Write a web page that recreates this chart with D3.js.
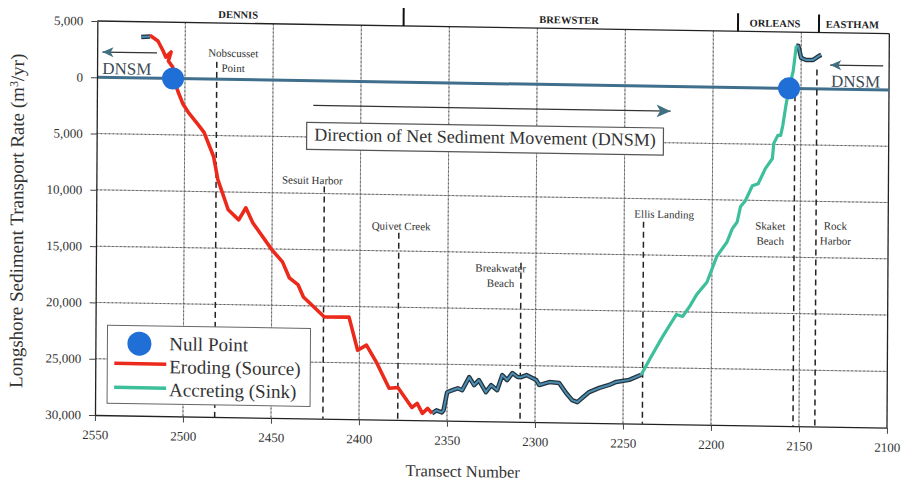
<!DOCTYPE html>
<html><head><meta charset="utf-8">
<script src="https://cdn.jsdelivr.net/npm/d3@7"></script>
<style>
body{margin:0;background:#fff}
svg{display:block}
text{font-family:"Liberation Serif","Times New Roman",serif}
</style>
</head><body>
<svg id="c" width="904" height="482"></svg>
<script>
// ---------- DATA ----------
const xTicks = [2550, 2500, 2450, 2400, 2350, 2300, 2250, 2200, 2150, 2100];
const yTicks = [5000, 0, -5000, -10000, -15000, -20000, -25000, -30000];
const yTickLabels = ["5,000", "0", "5,000", "10,000", "15,000", "20,000", "25,000", "30,000"];

const westTailT = [2525, 2520];
const westTailV = [3640, 3700];

const erodingT = [2520, 2519.5, 2515.5, 2512.5, 2511, 2508, 2509.5, 2507, 2506.5, 2504, 2501, 2498, 2492.5, 2489, 2483.5, 2481, 2475, 2469, 2465, 2461, 2450, 2444, 2440, 2435, 2432, 2426, 2420, 2406, 2401, 2396, 2390, 2383, 2378, 2370, 2367, 2364, 2361, 2358.5];
const erodingV = [3700, 3750, 3310, 2430, 1890, 2350, 1550, 1010, 0, -1125, -2280, -2980, -4040, -4740, -6870, -8920, -11580, -12460, -11380, -12700, -15080, -16130, -17550, -18160, -19220, -20100, -20970, -20940, -23880, -23410, -25000, -27210, -27120, -28880, -28510, -29390, -28940, -29380];

const transitionT = [2358.5, 2356, 2353, 2352, 2350, 2347, 2344, 2341.5, 2337.5, 2334.7, 2332, 2328, 2325, 2321.6, 2318.75, 2316, 2313, 2310, 2308, 2305, 2299.4, 2297.7, 2292, 2286.4, 2282.4, 2279, 2276, 2273.3, 2269.3, 2263.6, 2258, 2254, 2246.6, 2239.8];
const transitionV = [-29380, -29100, -29280, -29090, -27480, -27290, -27110, -27280, -26110, -26810, -26360, -27420, -26790, -27220, -25880, -26310, -25680, -26030, -26030, -25840, -26270, -26710, -26430, -26500, -27380, -28000, -28170, -27800, -27260, -26880, -26600, -26320, -26120, -25650];

const accretingT = [2239.8, 2235.2, 2227.8, 2220, 2216.5, 2212.5, 2208.5, 2202.8, 2197.2, 2191.5, 2188.6, 2185.8, 2184, 2181.25, 2177.3, 2174, 2170, 2166, 2165.3, 2163, 2161.4, 2160.2, 2158.5, 2156.8, 2154.5, 2152.8];
const accretingV = [-25650, -24300, -22230, -20240, -20410, -19510, -18430, -17340, -15000, -13730, -12560, -11940, -10590, -10040, -8700, -8510, -7160, -6250, -4910, -4190, -4190, -3290, -1500, 0, 1540, 3790];

const eastTailT = [2152.8, 2151.7, 2150, 2147.2, 2143.2, 2139.8, 2138.6];
const eastTailV = [3790, 3790, 2720, 2540, 2560, 2930, 3020];

const nullPointT = [2506.8, 2156.8];
const nullPointV = [0, 0];

const townNames = ["DENNIS", "BREWSTER", "ORLEANS", "EASTHAM"];
const townT = [2470, 2282, 2165, 2121];
const townBoundT = [2376, 2186, 2140];

const placeNames = [["Nobscusset", "Point"], ["Sesuit Harbor"], ["Quivet Creek"], ["Breakwater", "Beach"], ["Ellis Landing"], ["Skaket", "Beach"], ["Rock", "Harbor"]];
const placeT = [2482, 2420.5, 2378, 2308.5, 2239, 2153.4, 2141];
const placeDashTopV = [1540, -9380, -13380, -15870, -12050, -600, 1710];
const placeLabelT = [2472.7, 2427.3, 2376.7, 2320, 2227.3, 2167, 2130];
const placeLabelV = [2000, -9170, -13120, -16710, -11700, -12580, -12490];

// ---------- CHART ----------
const x = d3.scaleLinear().domain([2550, 2100]).range([97, 889]);
const y = d3.scaleLinear().domain([5000, -30000]).range([21, 415]);

const svg = d3.select("#c");
const g = svg.append("g").attr("transform", "matrix(1,0.016,-0.006,1,0.47,-1.54)");

// grid (solid light underlay + dotted overlay)
const gridV = xTicks.slice(1, xTicks.length - 1);
const gridH = yTicks.slice(2, yTicks.length - 1);
const grid = g.append("g");
[["#a6a6a6", "none"], ["#5e5e5e", "1.5 2.5"]].forEach(([col, dash]) => {
  gridV.forEach(d => {
    grid.append("line").attr("x1", x(d)).attr("x2", x(d)).attr("y1", y(5000)).attr("y2", y(-30000))
      .attr("stroke", col).attr("stroke-width", 1).attr("stroke-dasharray", dash);
  });
  gridH.forEach(d => {
    grid.append("line").attr("x1", x(2550)).attr("x2", x(2100)).attr("y1", y(d)).attr("y2", y(d))
      .attr("stroke", col).attr("stroke-width", 1).attr("stroke-dasharray", dash);
  });
});

// frame top / right
g.append("line").attr("x1", x(2550)).attr("x2", x(2100)).attr("y1", y(5000)).attr("y2", y(5000)).attr("stroke", "#222").attr("stroke-width", 1.3);
g.append("line").attr("x1", x(2100)).attr("x2", x(2100)).attr("y1", y(5000)).attr("y2", y(-30000)).attr("stroke", "#222").attr("stroke-width", 1.3);

// zero line
g.append("line").attr("x1", x(2550)).attr("x2", x(2100)).attr("y1", y(0)).attr("y2", y(0))
  .attr("stroke", "#3f6f8c").attr("stroke-width", 3);

// place dashed lines
g.append("g").selectAll("line").data(placeT).join("line")
  .attr("x1", d => x(d)).attr("x2", d => x(d))
  .attr("y1", (d, i) => y(placeDashTopV[i])).attr("y2", y(-30000))
  .attr("stroke", "#222").attr("stroke-width", 1.5).attr("stroke-dasharray", "6,4");

// place labels
placeNames.forEach((lines, i) => {
  lines.forEach((t, j) => {
    g.append("text").attr("x", x(placeLabelT[i])).attr("y", y(placeLabelV[i]) + j * 15)
      .attr("text-anchor", "middle").attr("font-size", 11).attr("fill", "#333").text(t);
  });
});

// curves
const line = d3.line().x(d => x(d[0])).y(d => y(d[1]));
const zip = (a, b) => a.map((v, i) => [v, b[i]]);

function darkSeg(T, V) {
  g.append("path").attr("d", line(zip(T, V))).attr("fill", "none").attr("stroke", "#24343c").attr("stroke-width", 4.5).attr("stroke-linejoin", "round");
  g.append("path").attr("d", line(zip(T, V))).attr("fill", "none").attr("stroke", "#4b8db3").attr("stroke-width", 2).attr("stroke-linejoin", "round");
}
darkSeg(westTailT, westTailV);
darkSeg(transitionT, transitionV);
darkSeg(eastTailT, eastTailV);
g.append("path").attr("d", line(zip(erodingT, erodingV))).attr("fill", "none").attr("stroke", "#ec2a1c").attr("stroke-width", 3.6).attr("stroke-linejoin", "round");
g.append("path").attr("d", line(zip(accretingT, accretingV))).attr("fill", "none").attr("stroke", "#3dbf9b").attr("stroke-width", 3.2).attr("stroke-linejoin", "round");

// null points
g.append("g").selectAll("circle").data(nullPointT).join("circle")
  .attr("cx", d => x(d)).attr("cy", (d, i) => y(nullPointV[i])).attr("r", 11).attr("fill", "#1f6fd6");

// axes
const xAxis = g.append("g").attr("transform", `translate(0,${y(-30000)})`)
  .call(d3.axisBottom(x).tickValues(xTicks).tickFormat(d3.format("d")).tickSizeInner(6).tickSizeOuter(0).tickPadding(9));
const yAxis = g.append("g").attr("transform", `translate(${x(2550)},0)`)
  .call(d3.axisLeft(y).tickValues(yTicks).tickFormat((d, i) => yTickLabels[i]).tickSizeInner(6).tickSizeOuter(0).tickPadding(8));
[xAxis, yAxis].forEach(a => {
  a.select(".domain").attr("stroke", "#222").attr("stroke-width", 1.3);
  a.selectAll(".tick line").attr("stroke", "#444");
  a.selectAll(".tick text").attr("font-family", '"Liberation Serif",serif').attr("font-size", 13).attr("fill", "#333");
});

// axis titles
g.append("text").attr("transform", `translate(24,222) rotate(-90)`)
  .attr("text-anchor", "middle").attr("font-size", 19).attr("fill", "#333")
  .html('Longshore Sediment Transport Rate (m<tspan dy="-6" font-size="12">3</tspan><tspan dy="6">/yr)</tspan>');
g.append("text").attr("x", 465).attr("y", 471).attr("text-anchor", "middle")
  .attr("font-size", 16.5).attr("fill", "#333").text("Transect Number");

// town labels & boundaries
g.append("g").selectAll("text").data(townNames).join("text")
  .attr("x", (d, i) => x(townT[i])).attr("y", y(5000) - 5).attr("text-anchor", "middle")
  .attr("font-size", 10.5).attr("font-weight", "bold").attr("fill", "#222").text(d => d);
g.append("g").selectAll("line").data(townBoundT).join("line")
  .attr("x1", d => x(d)).attr("x2", d => x(d)).attr("y1", y(5000) - 18).attr("y2", y(5000))
  .attr("stroke", "#111").attr("stroke-width", 2);

// arrows
const arrowCol = "#3f6f80";
function arrow(t1, t2, v, size) {
  const x1 = x(t1), x2 = x(t2), yy = y(v);
  g.append("line").attr("x1", x1).attr("x2", x2).attr("y1", yy).attr("y2", yy).attr("stroke", "#333").attr("stroke-width", 1.2);
  const dir = Math.sign(x2 - x1);
  g.append("path").attr("d", `M${x2},${yy} L${x2 - dir * size},${yy - size * 0.45} L${x2 - dir * size * 0.75},${yy} L${x2 - dir * size},${yy + size * 0.45} Z`)
    .attr("fill", arrowCol);
}
arrow(2516, 2547, 2250, 11);
arrow(2103.4, 2133.5, 2130, 11);
arrow(2427, 2224, -2190, 14);

g.append("text").attr("x", x(2547)).attr("y", y(300)).attr("font-size", 17).attr("fill", "#3a4a55").text("DNSM");
g.append("text").attr("x", x(2133)).attr("y", y(200)).attr("font-size", 17).attr("fill", "#3a4a55").text("DNSM");

// boxed direction label
const bx1 = x(2430.7), bx2 = x(2228), by1 = y(-3700), by2 = y(-6100);
g.append("rect").attr("x", bx1).attr("y", by1).attr("width", bx2 - bx1).attr("height", by2 - by1)
  .attr("fill", "#fff").attr("stroke", "#555").attr("stroke-width", 1.2);
g.append("text").attr("x", (bx1 + bx2) / 2).attr("y", by2 - 9).attr("text-anchor", "middle")
  .attr("font-size", 18).attr("fill", "#333").text("Direction of Net Sediment Movement (DNSM)");

// legend
const lg = g.append("g");
lg.append("rect").attr("x", 109).attr("y", 325).attr("width", 203).attr("height", 78)
  .attr("fill", "#fff").attr("stroke", "#666").attr("stroke-width", 1);
lg.append("circle").attr("cx", 141).attr("cy", 343).attr("r", 12).attr("fill", "#1f6fd6");
lg.append("line").attr("x1", 116).attr("x2", 168).attr("y1", 363).attr("y2", 363).attr("stroke", "#ec2a1c").attr("stroke-width", 3.5);
lg.append("line").attr("x1", 116).attr("x2", 168).attr("y1", 387).attr("y2", 387).attr("stroke", "#3dbf9b").attr("stroke-width", 3.5);
const legendLabels = ["Null Point", "Eroding (Source)", "Accreting (Sink)"];
lg.selectAll("text").data(legendLabels).join("text")
  .attr("x", 171).attr("y", (d, i) => 349 + i * 23).attr("font-size", 19).attr("fill", "#333").text(d => d);
</script>
</body></html>
